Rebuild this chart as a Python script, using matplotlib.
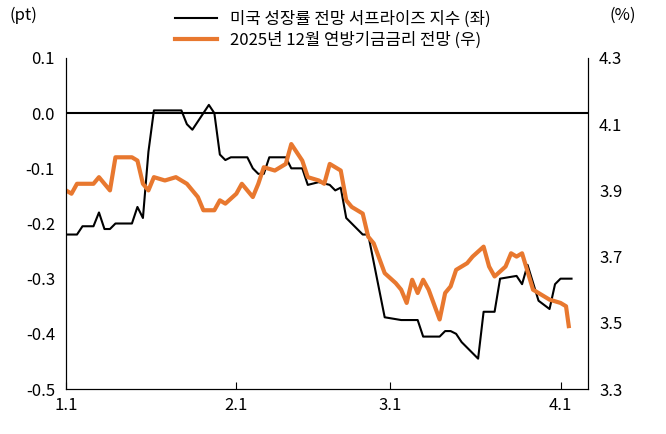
import matplotlib
matplotlib.use("Agg")
import matplotlib.pyplot as plt
from matplotlib import font_manager

names = {f.name for f in font_manager.fontManager.ttflist}
fams = [n for n in ['Noto Sans CJK KR','Noto Sans CJK JP','Noto Sans CJK SC','Noto Sans CJK TC'] if n in names]
plt.rcParams['font.family'] = fams + ['DejaVu Sans']

black_days = [0,2,3,5,6,7,8,9,12,13,14,15,16,21,22,23,26,27,28,29,30,33,34,35,36,37,40,41,43,44,46,48,49,50,51,53,54,55,56,58,61,64,65,68,69,70,71,72,75,76,78,79,82,83,84,86,88,89,90,92]
black_vals = [-0.22,-0.22,-0.205,-0.205,-0.18,-0.21,-0.21,-0.2,-0.2,-0.17,-0.19,-0.07,0.005,0.005,-0.02,-0.03,0.015,0,-0.075,-0.085,-0.08,-0.08,-0.1,-0.11,-0.11,-0.08,-0.08,-0.1,-0.1,-0.13,-0.125,-0.13,-0.14,-0.135,-0.19,-0.21,-0.22,-0.22,-0.27,-0.37,-0.375,-0.375,-0.405,-0.405,-0.395,-0.395,-0.4,-0.415,-0.445,-0.36,-0.36,-0.3,-0.295,-0.31,-0.275,-0.34,-0.355,-0.31,-0.3,-0.3]
orange_days = [0,1,2,5,6,7,8,9,12,13,14,15,16,18,20,22,24,25,27,28,29,31,32,34,35,36,38,40,41,43,44,46,47,48,50,51,52,54,55,56,58,60,61,62,63,64,65,66,68,69,70,71,73,74,76,77,78,80,81,82,83,85,87,88,90,91,91.5]
orange_vals = [3.9,3.89,3.92,3.92,3.94,3.92,3.9,4.0,4.0,3.99,3.92,3.9,3.94,3.93,3.94,3.92,3.88,3.84,3.84,3.87,3.86,3.89,3.92,3.88,3.92,3.97,3.96,3.98,4.04,3.99,3.94,3.93,3.92,3.98,3.96,3.87,3.85,3.83,3.76,3.74,3.65,3.62,3.6,3.56,3.63,3.59,3.63,3.6,3.51,3.59,3.61,3.66,3.68,3.7,3.73,3.67,3.64,3.67,3.71,3.7,3.71,3.6,3.58,3.57,3.56,3.55,3.49]
xtick_pos = [0,31,59,90]
xtick_labels = ['1.1','2.1','3.1','4.1']

fig = plt.figure(figsize=(6.66,4.34), dpi=100)
ax = fig.add_axes([66/666, 45/434, 522/666, 331/434])
ax2 = ax.twinx()
l1, = ax.plot(black_days, black_vals, color='black', lw=1.5, label='미국 성장률 전망 서프라이즈 지수 (좌)')
ax.axhline(0, color='black', lw=1.5)
l2, = ax2.plot(orange_days, orange_vals, color='#E8782F', lw=3, label='2025년 12월 연방기금금리 전망 (우)')
ax.set_ylim(-0.5,0.1); ax2.set_ylim(3.3,4.3)
ax.set_yticks([0.1,0.0,-0.1,-0.2,-0.3,-0.4,-0.5])
ax.set_yticklabels(['0.1','0.0','-0.1','-0.2','-0.3','-0.4','-0.5'])
ax2.set_yticks([4.3,4.1,3.9,3.7,3.5,3.3])
ax.set_xlim(0,95)
ax.set_xticks(xtick_pos); ax.set_xticklabels(xtick_labels)
for a in (ax, ax2):
    a.spines['top'].set_visible(False)
    a.tick_params(labelsize=12, length=0)
ax.tick_params(axis='x', direction='in', length=5, pad=6)
ax.tick_params(axis='y', pad=8)
ax2.tick_params(axis='y', pad=8)
fig.text(0.015, 0.955, '(pt)', fontsize=12)
fig.text(0.915, 0.955, '(%)', fontsize=12)
fig.legend(handles=[l1,l2], loc='upper center', bbox_to_anchor=(0.5,1.01), frameon=False, fontsize=12, handlelength=2.5, labelspacing=0.2)
fig.savefig('out.png', dpi=100)
